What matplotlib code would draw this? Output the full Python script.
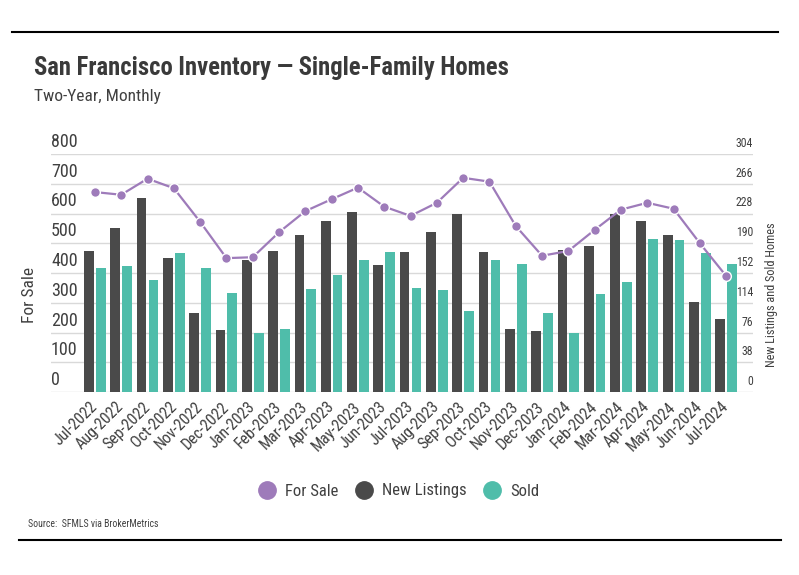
import matplotlib
matplotlib.use("Agg")
import matplotlib.pyplot as plt
import matplotlib.transforms as mtransforms
from matplotlib.lines import Line2D
import numpy as np

plt.rcParams['font.family'] = ['Roboto Condensed', 'Open Sans Condensed', 'Liberation Sans Narrow', 'Lato', 'DejaVu Sans']

months = ["Jul-2022", "Aug-2022", "Sep-2022", "Oct-2022", "Nov-2022", "Dec-2022",
          "Jan-2023", "Feb-2023", "Mar-2023", "Apr-2023", "May-2023", "Jun-2023",
          "Jul-2023", "Aug-2023", "Sep-2023", "Oct-2023", "Nov-2023", "Dec-2023",
          "Jan-2024", "Feb-2024", "Mar-2024", "Apr-2024", "May-2024", "Jun-2024",
          "Jul-2024"]
for_sale = [672, 663, 717, 685, 572, 450, 453, 537, 608, 648, 687, 623,
            592, 636, 720, 707, 558, 458, 474, 545, 613, 636, 616, 500, 390]
new_listings = [180, 209, 248, 171, 101, 79, 168, 180, 200, 219, 230, 162,
                179, 204, 227, 179, 81, 78, 181, 186, 227, 219, 200, 115, 93]
sold = [158, 161, 143, 177, 158, 126, 75, 80, 131, 150, 168, 179,
        133, 130, 103, 168, 164, 101, 76, 125, 140, 195, 194, 177, 164]
left_ticks = [0, 100, 200, 300, 400, 500, 600, 700, 800]
right_ticks = [0, 38, 76, 114, 152, 190, 228, 266, 304]

PURPLE = "#9E7BBA"
DARK = "#4A4A4A"
TEAL = "#4FBDAA"
GRID = "#D9D9D9"
TXT = "#404040"

fig = plt.figure(figsize=(7.99, 5.75), dpi=100)
W, H = 799, 575
axb = fig.add_axes([51 / W, 1 - 392 / H, (753 - 51) / W, (392 - 154) / H])
axl = axb.twinx()

x = np.arange(len(months))
bw = 0.37
axb.bar(x - 0.225, new_listings, width=bw, color=DARK, zorder=2)
axb.bar(x + 0.225, sold, width=bw, color=TEAL, zorder=2)
axb.set_ylim(0, 304)
axb.set_xlim(-1.67, 25.02)
for t in right_ticks:
    axb.axhline(t, color=GRID, lw=1, zorder=1)

axl.plot(x, for_sale, color=PURPLE, lw=1.6, marker='o', markersize=7,
         markerfacecolor=PURPLE, markeredgecolor='white', markeredgewidth=1.0, zorder=3)
axl.set_ylim(0, 800)

for a in (axb, axl):
    for s in a.spines.values():
        s.set_visible(False)
    a.set_yticks([])
    a.tick_params(axis='y', length=0)

axb.set_xticks(x)
axb.set_xticklabels(months, rotation=45, ha='right', va='center',
                    rotation_mode='anchor', fontsize=11.5, color=TXT)
axb.tick_params(axis='x', length=0, pad=9)

tl = mtransforms.blended_transform_factory(axl.transAxes, axl.transData)
off = mtransforms.offset_copy(tl, fig=fig, x=0, y=3, units='dots')
for t in left_ticks:
    axl.text(0, t, str(t), transform=off, ha='left', va='bottom',
             fontsize=13, color=TXT)
tr = mtransforms.blended_transform_factory(axb.transAxes, axb.transData)
offr = mtransforms.offset_copy(tr, fig=fig, x=0, y=4, units='dots')
for t in right_ticks:
    axb.text(1, t, str(t), transform=offr, ha='right', va='bottom',
             fontsize=8.5, color=TXT)

fig.text(30 / W, 1 - 295 / H, "For Sale", rotation=90, ha='center', va='center',
         fontsize=12.5, color=TXT)
fig.text(772 / W, 1 - 295 / H, "New Listings and Sold Homes", rotation=90,
         ha='center', va='center', fontsize=8.8, color=TXT)

fig.text(34 / W, 1 - 68 / H, "San Francisco Inventory \u2014 Single-Family Homes",
         ha='left', va='center', fontsize=17.7, fontweight='bold', color="#3A3A3A")
fig.text(34 / W, 1 - 97 / H, "Two-Year, Monthly", ha='left', va='center',
         fontsize=12.5, color=TXT)

handles = [Line2D([], [], marker='o', ls='', markersize=12.5, color=PURPLE),
           Line2D([], [], marker='o', ls='', markersize=12.5, color=DARK),
           Line2D([], [], marker='o', ls='', markersize=12.5, color=TEAL)]
fig.legend(handles, ["For Sale", "New Listings", "Sold"], loc='center',
           bbox_to_anchor=(399 / W, 1 - 491 / H), ncol=3, frameon=False,
           fontsize=12, handlelength=1.0, handletextpad=0.6,
           columnspacing=1.0, labelcolor=TXT)

fig.text(28 / W, 1 - 524 / H, "Source:  SFMLS via BrokerMetrics", ha='left',
         va='center', fontsize=7, color=TXT)

fig.add_artist(Line2D([12 / W, 778 / W], [1 - 32 / H, 1 - 32 / H], color='black', lw=1.5))
fig.add_artist(Line2D([19 / W, 781 / W], [1 - 540 / H, 1 - 540 / H], color='black', lw=1.5))

fig.savefig("out.png", dpi=100)
